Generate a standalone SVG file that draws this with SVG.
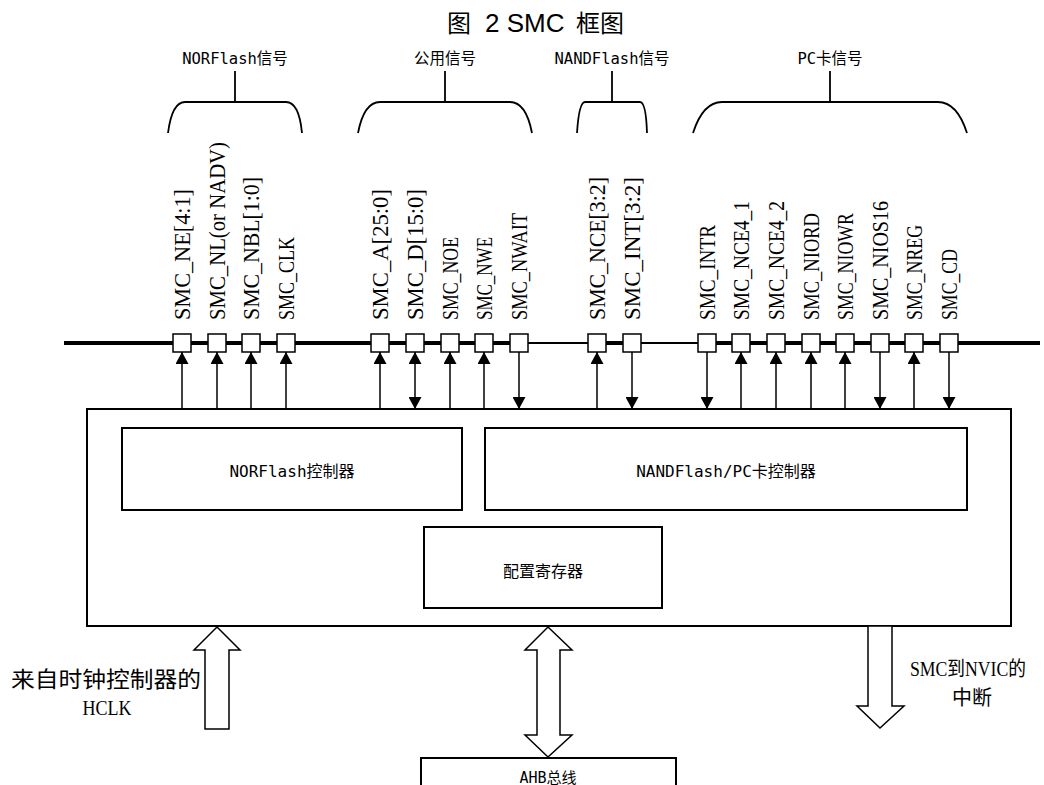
<svg xmlns="http://www.w3.org/2000/svg" width="1044" height="785" viewBox="0 0 1044 785">
<style>
.box{fill:#fff;stroke:#000;stroke-width:2}
.pin{fill:#fff;stroke:#000;stroke-width:1.5}
.sig{stroke:#000;stroke-width:1.5;fill:none}
.brk{stroke:#000;stroke-width:1.8;fill:none}
.blk{fill:#fff;stroke:#000;stroke-width:1.5}
.lbl{font-family:"Liberation Serif","Noto Sans CJK SC",serif;font-size:24px;fill:#000}
.hei{font-family:"DejaVu Sans Mono","Noto Sans CJK SC",monospace;fill:#000;text-anchor:middle}
.song{font-family:"Liberation Serif","Noto Sans CJK SC",serif;fill:#000;text-anchor:middle}
</style>
<defs>
<marker id="ah" viewBox="0 0 12 13" refX="12" refY="6.5" markerWidth="12" markerHeight="13" markerUnits="userSpaceOnUse" orient="auto-start-reverse">
<path d="M0,0 L12,6.5 L0,13 z" fill="#000"/>
</marker>
</defs>
<rect width="1044" height="785" fill="#fff"/>
<text id="title" y="32" font-family="'Liberation Sans','Noto Sans CJK SC',sans-serif" font-size="24" fill="#000"><tspan x="447">图</tspan><tspan x="485" font-size="26">2 SMC</tspan><tspan x="576">框图</tspan></text>

<g id="groups">
<g id="grp-nor"><text class="hei" x="235" y="64" font-size="15.5">NORFlash信号</text><line class="brk" x1="235" y1="71" x2="235" y2="102"/><path class="brk" d="M168,133 Q172,102 185,102 L286,102 Q299,102 302,133"/></g>
<g id="grp-common"><text class="hei" x="445" y="64" font-size="15.5">公用信号</text><line class="brk" x1="445" y1="71" x2="445" y2="102"/><path class="brk" d="M358,133 Q364,102 380,102 L510,102 Q526,102 532,133"/></g>
<g id="grp-nand"><text class="hei" x="612" y="64" font-size="15.5">NANDFlash信号</text><line class="brk" x1="612" y1="71" x2="612" y2="102"/><path class="brk" d="M577,133 Q579,102 585,102 L640,102 Q646,102 647,133"/></g>
<g id="grp-pc"><text class="hei" x="830" y="64" font-size="15.5">PC卡信号</text><line class="brk" x1="830" y1="71" x2="830" y2="102"/><path class="brk" d="M693,133 Q703,102 722,102 L938,102 Q957,102 967,133"/></g>
</g>

<g id="bus">
<line x1="64" y1="343" x2="528" y2="343" stroke="#000" stroke-width="4"/>
<line x1="528" y1="343" x2="588" y2="343" stroke="#000" stroke-width="2"/>
<line x1="588" y1="343" x2="641" y2="343" stroke="#000" stroke-width="4"/>
<line x1="641" y1="343" x2="698" y2="343" stroke="#000" stroke-width="2"/>
<line x1="698" y1="343" x2="1040" y2="343" stroke="#000" stroke-width="4"/>
</g>

<g id="smc">
<rect class="box" x="87" y="409" width="924" height="217"/>
</g>
<g id="nor-ctrl"><rect class="box" x="122" y="428" width="340" height="82"/><text class="hei" x="292" y="477" font-size="16">NORFlash控制器</text></g>
<g id="nand-ctrl"><rect class="box" x="485" y="428" width="482" height="82"/><text class="hei" x="726" y="477" font-size="16">NANDFlash/PC卡控制器</text></g>
<g id="cfg-reg"><rect class="box" x="424" y="527" width="238" height="81"/><text class="hei" x="543" y="577" font-size="16">配置寄存器</text></g>
<g id="ahb"><rect class="box" x="421" y="758" width="255" height="40"/><text class="hei" x="548" y="783" font-size="15">AHB总线</text></g>

<g id="pins">
<g id="p-ne"><rect class="pin" x="173" y="334" width="18" height="18"/><text class="lbl" transform="translate(190,320) rotate(-90)" textLength="131" lengthAdjust="spacingAndGlyphs">SMC_NE[4:1]</text></g>
<g id="p-nl"><rect class="pin" x="208" y="334" width="18" height="18"/><text class="lbl" transform="translate(225,320) rotate(-90)" textLength="178" lengthAdjust="spacingAndGlyphs">SMC_NL(or NADV)</text></g>
<g id="p-nbl"><rect class="pin" x="242" y="334" width="18" height="18"/><text class="lbl" transform="translate(259,320) rotate(-90)" textLength="143" lengthAdjust="spacingAndGlyphs">SMC_NBL[1:0]</text></g>
<g id="p-clk"><rect class="pin" x="277" y="334" width="18" height="18"/><text class="lbl" transform="translate(294,320) rotate(-90)" textLength="83" lengthAdjust="spacingAndGlyphs">SMC_CLK</text></g>
<g id="p-a"><rect class="pin" x="371" y="334" width="18" height="18"/><text class="lbl" transform="translate(388,320) rotate(-90)" textLength="131" lengthAdjust="spacingAndGlyphs">SMC_A[25:0]</text></g>
<g id="p-d"><rect class="pin" x="406" y="334" width="18" height="18"/><text class="lbl" transform="translate(423,320) rotate(-90)" textLength="131" lengthAdjust="spacingAndGlyphs">SMC_D[15:0]</text></g>
<g id="p-noe"><rect class="pin" x="441" y="334" width="18" height="18"/><text class="lbl" transform="translate(458,320) rotate(-90)" textLength="83" lengthAdjust="spacingAndGlyphs">SMC_NOE</text></g>
<g id="p-nwe"><rect class="pin" x="475" y="334" width="18" height="18"/><text class="lbl" transform="translate(492,320) rotate(-90)" textLength="83" lengthAdjust="spacingAndGlyphs">SMC_NWE</text></g>
<g id="p-nwait"><rect class="pin" x="510" y="334" width="18" height="18"/><text class="lbl" transform="translate(527,320) rotate(-90)" textLength="107" lengthAdjust="spacingAndGlyphs">SMC_NWAIT</text></g>
<g id="p-nce"><rect class="pin" x="588" y="334" width="18" height="18"/><text class="lbl" transform="translate(605,320) rotate(-90)" textLength="143" lengthAdjust="spacingAndGlyphs">SMC_NCE[3:2]</text></g>
<g id="p-int"><rect class="pin" x="623" y="334" width="18" height="18"/><text class="lbl" transform="translate(640,320) rotate(-90)" textLength="143" lengthAdjust="spacingAndGlyphs">SMC_INT[3:2]</text></g>
<g id="p-intr"><rect class="pin" x="698" y="334" width="18" height="18"/><text class="lbl" transform="translate(715,320) rotate(-90)" textLength="95" lengthAdjust="spacingAndGlyphs">SMC_INTR</text></g>
<g id="p-nce41"><rect class="pin" x="732" y="334" width="18" height="18"/><text class="lbl" transform="translate(749,320) rotate(-90)" textLength="119" lengthAdjust="spacingAndGlyphs">SMC_NCE4_1</text></g>
<g id="p-nce42"><rect class="pin" x="767" y="334" width="18" height="18"/><text class="lbl" transform="translate(784,320) rotate(-90)" textLength="119" lengthAdjust="spacingAndGlyphs">SMC_NCE4_2</text></g>
<g id="p-niord"><rect class="pin" x="802" y="334" width="18" height="18"/><text class="lbl" transform="translate(819,320) rotate(-90)" textLength="107" lengthAdjust="spacingAndGlyphs">SMC_NIORD</text></g>
<g id="p-niowr"><rect class="pin" x="836" y="334" width="18" height="18"/><text class="lbl" transform="translate(853,320) rotate(-90)" textLength="107" lengthAdjust="spacingAndGlyphs">SMC_NIOWR</text></g>
<g id="p-nios16"><rect class="pin" x="871" y="334" width="18" height="18"/><text class="lbl" transform="translate(888,320) rotate(-90)" textLength="119" lengthAdjust="spacingAndGlyphs">SMC_NIOS16</text></g>
<g id="p-nreg"><rect class="pin" x="905" y="334" width="18" height="18"/><text class="lbl" transform="translate(922,320) rotate(-90)" textLength="95" lengthAdjust="spacingAndGlyphs">SMC_NREG</text></g>
<g id="p-cd"><rect class="pin" x="940" y="334" width="18" height="18"/><text class="lbl" transform="translate(957,320) rotate(-90)" textLength="71" lengthAdjust="spacingAndGlyphs">SMC_CD</text></g>
</g>

<g id="connectors">
<line class="sig" x1="182" y1="409" x2="182" y2="352" marker-end="url(#ah)"/>
<line class="sig" x1="217" y1="409" x2="217" y2="352" marker-end="url(#ah)"/>
<line class="sig" x1="251" y1="409" x2="251" y2="352" marker-end="url(#ah)"/>
<line class="sig" x1="286" y1="409" x2="286" y2="352" marker-end="url(#ah)"/>
<line class="sig" x1="380" y1="409" x2="380" y2="352" marker-end="url(#ah)"/>
<line class="sig" x1="415" y1="409" x2="415" y2="352" marker-start="url(#ah)" marker-end="url(#ah)"/>
<line class="sig" x1="450" y1="409" x2="450" y2="352" marker-end="url(#ah)"/>
<line class="sig" x1="484" y1="409" x2="484" y2="352" marker-end="url(#ah)"/>
<line class="sig" x1="519" y1="352" x2="519" y2="409" marker-end="url(#ah)"/>
<line class="sig" x1="597" y1="409" x2="597" y2="352" marker-end="url(#ah)"/>
<line class="sig" x1="632" y1="352" x2="632" y2="409" marker-end="url(#ah)"/>
<line class="sig" x1="707" y1="352" x2="707" y2="409" marker-end="url(#ah)"/>
<line class="sig" x1="741" y1="409" x2="741" y2="352" marker-end="url(#ah)"/>
<line class="sig" x1="776" y1="409" x2="776" y2="352" marker-end="url(#ah)"/>
<line class="sig" x1="811" y1="409" x2="811" y2="352" marker-end="url(#ah)"/>
<line class="sig" x1="845" y1="409" x2="845" y2="352" marker-end="url(#ah)"/>
<line class="sig" x1="880" y1="352" x2="880" y2="409" marker-end="url(#ah)"/>
<line class="sig" x1="914" y1="409" x2="914" y2="352" marker-end="url(#ah)"/>
<line class="sig" x1="949" y1="352" x2="949" y2="409" marker-end="url(#ah)"/>
<polygon class="blk" points="217,627 240,650 229,650 229,729 205,729 205,650 194,650"/>
<polygon class="blk" points="548,627 572,650 560,650 560,735 572,735 548,757 525,735 537,735 537,650 525,650"/>
<polygon class="blk" points="868,626 892,626 892,706 904,706 880,728 857,706 868,706"/>
</g>

<g id="ext-labels">
<text class="song" x="106" y="687" font-size="22" textLength="190" lengthAdjust="spacingAndGlyphs">来自时钟控制器的</text>
<text class="song" x="107" y="715" font-size="20" textLength="49" lengthAdjust="spacingAndGlyphs">HCLK</text>
<text class="song" x="968" y="676" font-size="20" textLength="116" lengthAdjust="spacingAndGlyphs">SMC到NVIC的</text>
<text class="song" x="972" y="705" font-size="20">中断</text>
</g>
</svg>
